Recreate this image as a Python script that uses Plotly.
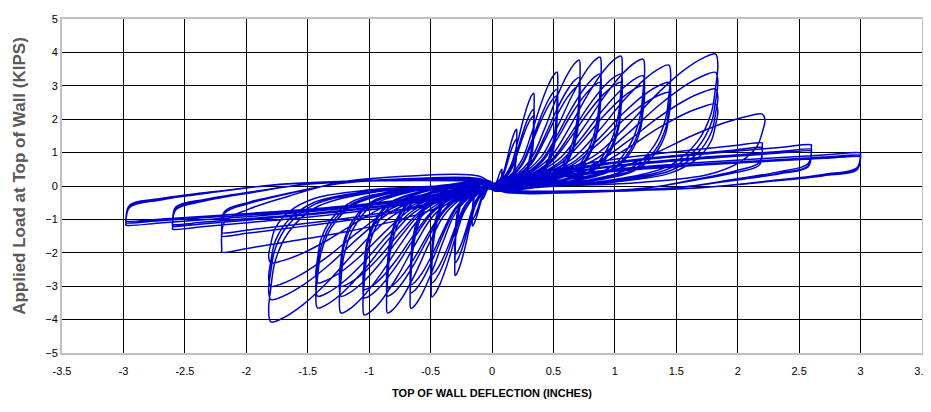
import plotly.graph_objects as go

# ---- peak values of each half-cycle (inches, kips) ----
pos_disp = [0.08, 0.20, 0.20, 0.34, 0.34, 0.34, 0.53, 0.53, 0.53, 0.71, 0.71, 0.71,
            0.88, 0.88, 0.88, 1.05, 1.05, 1.05, 1.23, 1.23, 1.23, 1.44, 1.44, 1.44,
            1.82, 1.82, 1.82, 1.82, 2.20, 2.20, 2.20, 2.60, 2.60, 2.60, 3.00, 3.00, 3.00]
pos_load = [0.50, 1.70, 1.40, 2.78, 2.30, 2.10, 3.41, 2.90, 2.70, 3.77, 3.25, 3.00,
            3.86, 3.35, 3.10, 3.89, 3.35, 3.10, 3.80, 3.30, 3.00, 3.62, 3.10, 2.80,
            3.95, 3.40, 2.90, 2.45, 2.15, 1.29, 1.15, 1.23, 1.10, 1.05, 0.99, 0.92, 0.88]
pos_shape = ["L"] * 29 + ["F"] * 8

neg_disp = [-0.08, -0.16, -0.16, -0.30, -0.30, -0.30, -0.49, -0.49, -0.49, -0.66, -0.66, -0.66,
            -0.85, -0.85, -0.85, -1.04, -1.04, -1.04, -1.23, -1.23, -1.23, -1.42, -1.42, -1.42,
            -1.80, -1.80, -1.80, -1.80, -2.20, -2.20, -2.20, -2.60, -2.60, -2.60, -2.98, -2.98, -2.98]
neg_load = [-0.40, -1.20, -1.00, -2.68, -2.30, -2.05, -3.32, -2.90, -2.65, -3.66, -3.20, -2.95,
            -3.80, -3.30, -3.05, -3.86, -3.35, -3.10, -3.80, -3.30, -3.00, -3.65, -3.30, -2.90,
            -4.07, -3.40, -3.00, -2.30, -1.98, -1.50, -1.40, -1.29, -1.20, -1.15, -1.17, -1.10, -1.05]
neg_shape = ["L"] * 28 + ["F"] * 9

# ---- loop outlines read from representative loops (fractions of the peak) ----
leaf_up_x = [0.02, 0.25, 0.45, 0.60, 0.74, 0.86, 0.95, 1.00]
leaf_up_y = [0.02, 0.08, 0.22, 0.45, 0.70, 0.88, 0.975, 1.00]
leaf_dn_x = [1.01, 1.00, 0.98, 0.92, 0.80, 0.55, 0.25, 0.03]
leaf_dn_y = [0.92, 0.75, 0.55, 0.34, 0.16, 0.05, 0.00, -0.04]

flat_up_x = [0.02, 0.06, 0.18, 0.35, 0.55, 0.75, 0.90, 1.00]
flat_up_y = [0.00, 0.10, 0.30, 0.52, 0.70, 0.84, 0.94, 1.00]
flat_dn_x = [1.00, 0.99, 0.90, 0.75, 0.57, 0.30, 0.05]
flat_dn_y = [0.97, 0.55, 0.35, 0.15, -0.05, -0.15, -0.15]

x_ticks = [-3.5, -3, -2.5, -2, -1.5, -1, -0.5, 0, 0.5, 1, 1.5, 2, 2.5, 3, 3.5]
y_ticks = [-5, -4, -3, -2, -1, 0, 1, 2, 3, 4, 5]

TEMPLATES = {
    "L": (leaf_up_x + leaf_dn_x, leaf_up_y + leaf_dn_y),
    "F": (flat_up_x + flat_dn_x, flat_up_y + flat_dn_y),
}

xs, ys = [0.0], [0.0]
for i in range(len(pos_disp)):
    for d, f, s in ((pos_disp[i], pos_load[i], pos_shape[i]),
                    (neg_disp[i], neg_load[i], neg_shape[i])):
        tx, ty = TEMPLATES[s]
        xs += [d * a for a in tx]
        ys += [f * b for b in ty]

fig = go.Figure()
fig.add_trace(go.Scatter(
    x=xs, y=ys, mode="lines",
    line=dict(color="rgb(0,0,204)", width=1.5, shape="spline", smoothing=1.0),
    hoverinfo="skip", showlegend=False,
))

font_family = "Liberation Sans, Arial, sans-serif"
fig.update_layout(
    width=923, height=404,
    margin=dict(l=54, r=9, t=11, b=59),
    paper_bgcolor="white", plot_bgcolor="white",
    font=dict(family=font_family, size=11, color="black"),
    xaxis=dict(
        range=[-3.5, 3.5], tickvals=x_ticks, ticktext=[f"{v:g}" for v in x_ticks],
        showgrid=True, gridcolor="black", gridwidth=1, automargin=False,
        zeroline=False, showline=True, linecolor="#c0c0c0", linewidth=2, mirror=True,
        ticks="", ticklabelstandoff=7, ticklabeloverflow="allow",
        tickfont=dict(size=11, family=font_family),
        title=dict(text="<b>TOP OF WALL DEFLECTION (INCHES)</b>",
                   font=dict(size=11, family=font_family, color="black"), standoff=13),
    ),
    yaxis=dict(
        range=[-5, 5], tickvals=y_ticks, automargin=False,
        showgrid=True, gridcolor="black", gridwidth=1,
        zeroline=False, showline=True, linecolor="#c0c0c0", linewidth=2, mirror=True,
        ticks="", tickfont=dict(size=11, family=font_family),
    ),
    annotations=[dict(
        text="<b>Applied Load at Top of Wall (KIPS)</b>",
        xref="paper", yref="paper", x=-0.049, y=0.53,
        xanchor="center", yanchor="middle", textangle=-90, showarrow=False,
        font=dict(size=17, family=font_family, color="#595959"),
    )],
)

fig.write_html("out.html")
